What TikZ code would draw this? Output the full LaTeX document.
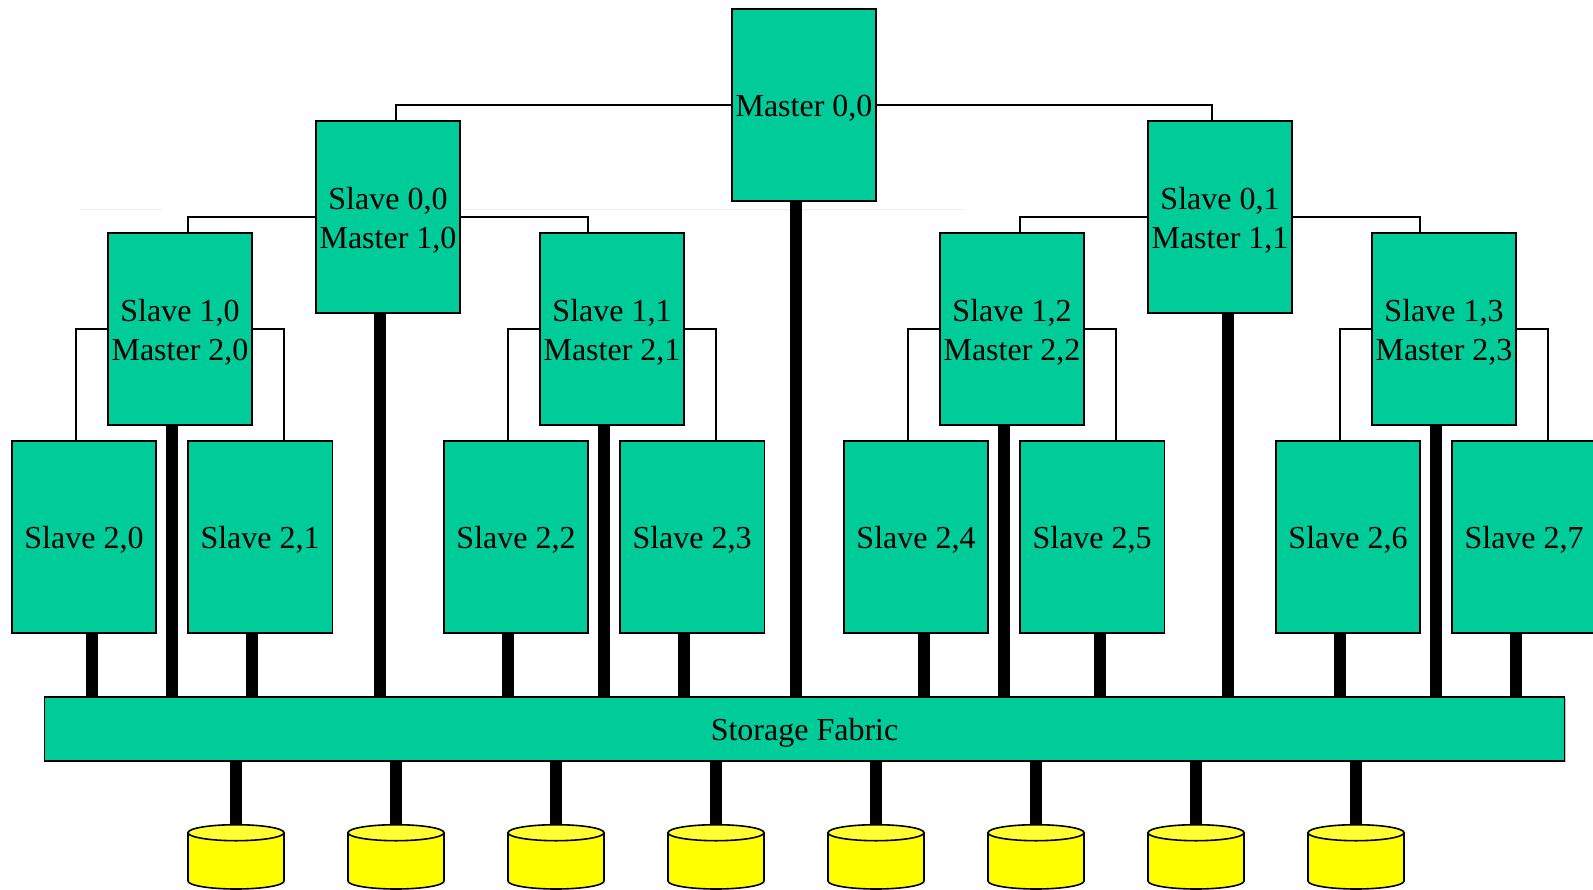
\documentclass[tikz,border=0pt]{standalone}
\usepackage{fontspec}
\setmainfont{Liberation Serif}
\usetikzlibrary{positioning, calc, shadows}
\newcommand{\liftLine}{\rule{0pt}{29pt}}
\newcommand{\liftOne}{\rule{0pt}{28pt}}

\begin{document}
\begin{tikzpicture}[
        x=1pt,
        y=-1pt,
        node distance=29.9pt,
        hostNode/.style={
            draw=black,
            fill=boxGreen,
            line width=1.7pt,
            drop shadow={shadow xshift=1pt, shadow yshift=-1pt, opacity=0.25, fill=black},
            minimum width=144.5pt,
            minimum height=192pt,
            inner sep=0pt,
            align=center,
            font=\fontsize{32}{39.6}\selectfont
        },
        fabricNode/.style={
            hostNode,
            minimum width=1520pt,
            minimum height=64pt
        },
        diskPart/.style={
            draw=black,
            line width=1.6pt
        },
        link/.style={
            line width=1.6pt,
            draw=black
        },
        bus/.style={
            line width=11.8pt,
            draw=black
        }
    ]
        \definecolor{boxGreen}{HTML}{00CC99}
        \definecolor{diskBody}{HTML}{FFFF00}
        \definecolor{diskTop}{HTML}{FFFF33}
        \useasboundingbox (0,0) rectangle (1593,889);

        % Faint stray rules
        \draw[black!7, line width=0.8pt] (80,209) -- (161,209);
        \draw[black!7, line width=0.8pt] (461,209) -- (964,209);

        % Master and first level
        \node[hostNode] (m00) at (804,105) {\liftOne Master 0,0};
        \node[hostNode] (s00) at (388,217) {\liftLine Slave 0,0\\Master 1,0};
        \node[hostNode] (s01) at (1220,217) {\liftLine Slave 0,1\\Master 1,1};

        % Second level
        \node[hostNode] (s10) at (180,329) {\liftLine Slave 1,0\\Master 2,0};
        \node[hostNode] (s11) at (612,329) {\liftLine Slave 1,1\\Master 2,1};
        \node[hostNode] (s12) at (1012,329) {\liftLine Slave 1,2\\Master 2,2};
        \node[hostNode] (s13) at (1444,329) {\liftLine Slave 1,3\\Master 2,3};

        % Third level
        \node[hostNode] (s20) at (84,537) {\liftOne Slave 2,0};
        \node[hostNode, right=of s20] (s21) {\liftOne Slave 2,1};
        \node[hostNode] (s22) at (516,537) {\liftOne Slave 2,2};
        \node[hostNode, right=of s22] (s23) {\liftOne Slave 2,3};
        \node[hostNode] (s24) at (916,537) {\liftOne Slave 2,4};
        \node[hostNode, right=of s24] (s25) {\liftOne Slave 2,5};
        \node[hostNode] (s26) at (1348,537) {\liftOne Slave 2,6};
        \node[hostNode, right=of s26] (s27) {\liftOne Slave 2,7};

        % Storage
        \node[fabricNode] (fabric) at (804.5,729) {\liftLine Storage Fabric};

        % Tree links
        \draw[link] (m00.west) -| ([xshift=8pt]s00.north);
        \draw[link] (m00.east) -| ([xshift=-8pt]s01.north);
        \draw[link] (s00.west) -| ([xshift=8pt]s10.north);
        \draw[link] (s00.east) -| ([xshift=-24pt]s11.north);
        \draw[link] (s01.west) -| ([xshift=8pt]s12.north);
        \draw[link] (s01.east) -| ([xshift=-24pt]s13.north);
        \foreach \fromName/\leftName/\rightName in {s10/s20/s21, s11/s22/s23, s12/s24/s25, s13/s26/s27}
        {
            \draw[link] (\fromName.west) -| ([xshift=-8pt]\leftName.north);
            \draw[link] (\fromName.east) -| ([xshift=24pt]\rightName.north);
        }

        % Links to the fabric
        \foreach \nodeName/\offset in {
            m00/-8, s00/-8, s01/8,
            s10/-8, s11/-8, s12/-8, s13/-8,
            s20/8, s21/-8, s22/-8, s23/-8, s24/8, s25/8, s26/-8, s27/-8}
        {
            \draw[bus] ([xshift=\offset pt]\nodeName.south) -- ([xshift=\offset pt]\nodeName.south |- fabric.north);
        }

        % Disks
        \foreach \diskIdx in {0,...,7}
        {
            \begin{scope}[shift={({236+160*\diskIdx},824.7)}]
                \coordinate (disk\diskIdx) at (0,0);
                \filldraw[diskPart, fill=diskBody]
                    (-48,8) -- (-48,56.3)
                    arc[start angle=180, end angle=360, x radius=48pt, y radius=8pt]
                    -- (48,8) -- cycle;
                \filldraw[diskPart, fill=diskTop]
                    (0,8) ellipse[x radius=48pt, y radius=8pt];
            \end{scope}
            \draw[bus] (disk\diskIdx |- fabric.south) -- (disk\diskIdx);
        }

    \end{tikzpicture}
\end{document}
